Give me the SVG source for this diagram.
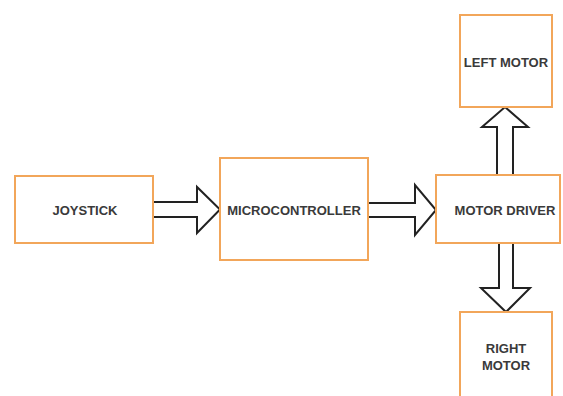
<svg xmlns="http://www.w3.org/2000/svg" width="563" height="396" viewBox="0 0 563 396">
<style>
.box{fill:#fff;stroke:#f2a65a;stroke-width:2}
.arr{fill:#fff;stroke:#222;stroke-width:2;stroke-linejoin:miter}
text{font-family:"Liberation Sans",Arial,sans-serif;font-size:13px;font-weight:bold;fill:#3a3a3a;text-anchor:middle}
</style>
<rect width="563" height="396" fill="#fff"/>
<g id="connectors">
<polygon class="arr" points="153,202 197,202 197,187 220,209.5 197,233 197,217 153,217"/>
<polygon class="arr" points="368,203 415,203 415,185 436,210 415,235 415,217 368,217"/>
<polygon class="arr" points="497,175 497,127 482,127 505,107 528,127 513,127 513,175"/>
<polygon class="arr" points="499,243 499,288 481,288 506,312 530,288 513,288 513,243"/>
</g>
<g id="joystick"><rect class="box" x="15" y="176" width="138" height="67"/><text x="85" y="215">JOYSTICK</text></g>
<g id="microcontroller"><rect class="box" x="220" y="158" width="148" height="102"/><text x="294" y="215">MICROCONTROLLER</text></g>
<g id="motor-driver"><rect class="box" x="436" y="175" width="124" height="68"/><text x="505" y="215">MOTOR DRIVER</text></g>
<g id="left-motor"><rect class="box" x="460" y="15" width="92" height="92"/><text x="506" y="67">LEFT MOTOR</text></g>
<g id="right-motor"><rect class="box" x="460" y="312" width="92" height="92"/><text x="506" y="353">RIGHT</text><text x="506" y="370">MOTOR</text></g>
</svg>
